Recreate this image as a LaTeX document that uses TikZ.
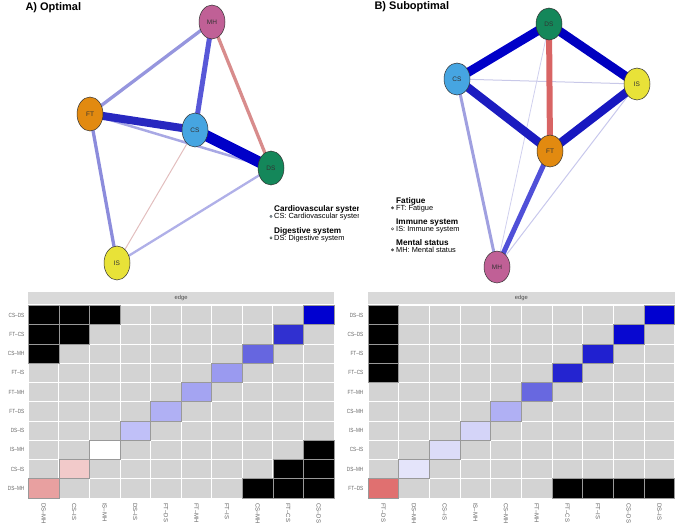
\documentclass[tikz,border=0pt]{standalone}
\usepackage{fontspec}
\setmainfont{Liberation Sans}
\usetikzlibrary{shapes.geometric}
\pgfdeclarelayer{background}
\pgfsetlayers{background,main}
% node colours
\definecolor{cMH}{RGB}{192,96,150}
\definecolor{cFT}{RGB}{226,138,16}
\definecolor{cCS}{RGB}{70,165,225}
\definecolor{cDS}{RGB}{20,135,90}
\definecolor{cIS}{RGB}{232,226,56}
% heatmap colours
\definecolor{panelgray}{RGB}{211,211,211}
\definecolor{stripgray}{RGB}{217,217,217}
\definecolor{labgray}{RGB}{100,100,100}
\definecolor{La}{RGB}{0,0,208}
\definecolor{Lb}{RGB}{48,48,208}
\definecolor{Lc}{RGB}{102,102,224}
\definecolor{Ld}{RGB}{154,154,240}
\definecolor{Le}{RGB}{164,164,242}
\definecolor{Lf}{RGB}{176,176,244}
\definecolor{Lg}{RGB}{192,192,248}
\definecolor{Lh}{RGB}{255,255,255}
\definecolor{Li}{RGB}{242,202,202}
\definecolor{Lj}{RGB}{232,160,160}
\definecolor{Ra}{RGB}{0,0,208}
\definecolor{Rb}{RGB}{8,8,208}
\definecolor{Rc}{RGB}{32,32,208}
\definecolor{Rd}{RGB}{36,36,208}
\definecolor{Re}{RGB}{104,104,224}
\definecolor{Rf}{RGB}{176,176,244}
\definecolor{Rg}{RGB}{212,212,248}
\definecolor{Rh}{RGB}{220,220,248}
\definecolor{Ri}{RGB}{228,228,250}
\definecolor{Rj}{RGB}{224,112,112}
\begin{document}
\begin{tikzpicture}[x=1pt,y=-1pt,
  netnode/.style={ellipse, draw=black!80, line width=0.5pt, inner sep=0pt,
     minimum width=26pt, minimum height=34pt, text=black!80,
     font=\fontsize{6.5}{7}\selectfont},
  rnode/.style={netnode, minimum height=32pt},
  title/.style={anchor=base west, font=\fontsize{11}{12}\bfseries},
  leghead/.style={anchor=base west, inner sep=0pt, font=\fontsize{8.2}{9}\bfseries},
  legitem/.style={anchor=base west, inner sep=0pt, font=\fontsize{7.4}{8}\selectfont},
  legdot/.style={draw=black!70, line width=0.4pt},
  ylab/.style={anchor=east, inner sep=0pt, text=labgray, font=\fontsize{6}{7}\selectfont},
  xlab/.style={anchor=west, rotate=-90, inner sep=0pt, text=labgray, font=\fontsize{6}{7}\selectfont},
  striplab/.style={inner sep=0pt, text=black!70, font=\fontsize{5.8}{6}\selectfont},
  cell/.style={draw=black!40, line width=0.7pt}
]
\useasboundingbox (0,0) rectangle (676,528);

% ---------------- Panel A network ----------------
\node[title] (tA) at (22,10) {A) Optimal};
\node[netnode, fill=cMH] (aMH) at (212,22) {MH};
\node[netnode, fill=cFT] (aFT) at (90,114) {FT};
\node[netnode, fill=cCS] (aCS) at (195,130) {CS};
\node[netnode, fill=cDS] (aDS) at (271,168) {DS};
\node[netnode, fill=cIS] (aIS) at (117,263) {IS};
\begin{pgfonlayer}{background}
\draw[line width=1pt, color={rgb,255:red,226;green,190;blue,190}] (aCS.center) -- (aIS.center);
\draw[line width=2.3pt, color={rgb,255:red,176;green,176;blue,232}] (aDS.center) -- (aIS.center);
\draw[line width=2.5pt, color={rgb,255:red,168;green,168;blue,228}] (aFT.center) -- (aDS.center);
\draw[line width=3.3pt, color={rgb,255:red,150;green,150;blue,222}] (aFT.center) -- (aMH.center);
\draw[line width=3.3pt, color={rgb,255:red,140;green,140;blue,220}] (aFT.center) -- (aIS.center);
\draw[line width=3.3pt, color={rgb,255:red,216;green,140;blue,140}] (aMH.center) -- (aDS.center);
\draw[line width=5pt, color={rgb,255:red,88;green,88;blue,216}] (aCS.center) -- (aMH.center);
\draw[line width=8pt, color={rgb,255:red,40;green,40;blue,192}] (aFT.center) -- (aCS.center);
\draw[line width=11pt, color={rgb,255:red,0;green,0;blue,200}] (aCS.center) -- (aDS.center);
\end{pgfonlayer}

% ---------------- Panel B network ----------------
\node[title] (tB) at (371,9.5) {B) Suboptimal};
\node[rnode, fill=cDS] (bDS) at (549,24) {DS};
\node[rnode, fill=cCS] (bCS) at (457,79) {CS};
\node[rnode, fill=cIS] (bIS) at (637,84) {IS};
\node[rnode, fill=cFT] (bFT) at (550,151) {FT};
\node[rnode, fill=cMH] (bMH) at (497,267) {MH};
\begin{pgfonlayer}{background}
\draw[line width=0.8pt, color={rgb,255:red,208;green,208;blue,238}] (bDS.center) -- (bMH.center);
\draw[line width=1pt, color={rgb,255:red,200;green,200;blue,236}] (bIS.center) -- (bMH.center);
\draw[line width=1pt, color={rgb,255:red,200;green,200;blue,232}] (bCS.center) -- (bIS.center);
\draw[line width=3pt, color={rgb,255:red,160;green,160;blue,224}] (bCS.center) -- (bMH.center);
\draw[line width=5pt, color={rgb,255:red,80;green,80;blue,216}] (bFT.center) -- (bMH.center);
\draw[line width=6pt, color={rgb,255:red,216;green,100;blue,100}] (bDS.center) -- (bFT.center);
\draw[line width=8.5pt, color={rgb,255:red,28;green,28;blue,192}] (bFT.center) -- (bCS.center);
\draw[line width=8.5pt, color={rgb,255:red,24;green,24;blue,192}] (bFT.center) -- (bIS.center);
\draw[line width=9pt, color={rgb,255:red,0;green,0;blue,200}] (bCS.center) -- (bDS.center);
\draw[line width=9pt, color={rgb,255:red,0;green,0;blue,192}] (bDS.center) -- (bIS.center);
\end{pgfonlayer}

% ---------------- Legends ----------------
\begin{scope}
\clip (262,195) rectangle (358,245);
\node[leghead] (lh1) at (274,211) {Cardiovascular system};
\node[legitem] (li1) at (274,218.5) {CS: Cardiovascular system};
\node[leghead] (lh2) at (274,233) {Digestive system};
\node[legitem] (li2) at (274,240) {DS: Digestive system};
\end{scope}
\draw[legdot, fill=cCS!40] (271,216.3) circle (1.2);
\draw[legdot, fill=cDS!40] (271,237.8) circle (1.2);

\node[leghead] (rh1) at (396,203) {Fatigue};
\node[legitem] (ri1) at (396,210) {FT: Fatigue};
\node[leghead] (rh2) at (396,224.5) {Immune system};
\node[legitem] (ri2) at (396,231) {IS: Immune system};
\node[leghead] (rh3) at (396,245) {Mental status};
\node[legitem] (ri3) at (396,252) {MH: Mental status};
\draw[legdot, fill=black!70] (392.5,207.8) circle (1.2);
\draw[legdot, fill=white] (392.5,228.8) circle (1.2);
\draw[legdot, fill=black!60] (392.5,249.8) circle (1.2);

% ---------------- Left heatmap ----------------
\def\lx{28.3}\def\ly{305.5}\def\lw{30.57}\def\rh{19.25}
\fill[stripgray] (\lx,291.5) rectangle (334,303.8);
\node[striplab] (lstrip) at (181.15,297.6) {edge};
\fill[panelgray] (\lx,\ly) rectangle (334,498);
\foreach \i in {0,...,10}{
  \draw[white, line width=1pt] ({\lx+\i*\lw},\ly) -- ({\lx+\i*\lw},498);
  \draw[white, line width=1pt] (\lx,{\ly+\i*\rh}) -- (334,{\ly+\i*\rh});
}
\foreach \c/\r/\col in {1/1/black,2/1/black,3/1/black,10/1/La,
   1/2/black,2/2/black,9/2/Lb, 1/3/black,8/3/Lc, 7/4/Ld, 6/5/Le, 5/6/Lf, 4/7/Lg,
   3/8/Lh,10/8/black, 2/9/Li,9/9/black,10/9/black,
   1/10/Lj,8/10/black,9/10/black,10/10/black}{
  \filldraw[cell, fill=\col] ({\lx+(\c-1)*\lw},{\ly+(\r-1)*\rh}) rectangle ({\lx+\c*\lw},{\ly+\r*\rh});
}
\foreach \t [count=\r] in {CS–DS,FT–CS,CS–MH,FT–IS,FT–MH,FT–DS,DS–IS,IS–MH,CS–IS,DS–MH}{
  \node[ylab] (ly\r) at (24.5,{\ly+(\r-0.5)*\rh}) {\scalebox{0.78}[1]{\t}};
}
\foreach \t [count=\c] in {DS–MH,CS–IS,IS–MH,DS–IS,FT–DS,FT–MH,FT–IS,CS–MH,FT–CS,CS–DS}{
  \node[xlab] (lx\c) at ({\lx+(\c-0.5)*\lw},503) {\t};
}

% ---------------- Right heatmap ----------------
\def\rx{368}\def\rw{30.67}
\fill[stripgray] (\rx,291.5) rectangle (674.7,303.8);
\node[striplab] (rstrip) at (521.35,297.6) {edge};
\fill[panelgray] (\rx,\ly) rectangle (674.7,498);
\foreach \i in {0,...,10}{
  \draw[white, line width=1pt] ({\rx+\i*\rw},\ly) -- ({\rx+\i*\rw},498);
  \draw[white, line width=1pt] (\rx,{\ly+\i*\rh}) -- (674.7,{\ly+\i*\rh});
}
\foreach \c/\r/\col in {1/1/black,10/1/Ra, 1/2/black,9/2/Rb, 1/3/black,8/3/Rc,
   1/4/black,7/4/Rd, 6/5/Re, 5/6/Rf, 4/7/Rg, 3/8/Rh, 2/9/Ri,
   1/10/Rj,7/10/black,8/10/black,9/10/black,10/10/black}{
  \filldraw[cell, fill=\col] ({\rx+(\c-1)*\rw},{\ly+(\r-1)*\rh}) rectangle ({\rx+\c*\rw},{\ly+\r*\rh});
}
\foreach \t [count=\r] in {DS–IS,CS–DS,FT–IS,FT–CS,FT–MH,CS–MH,IS–MH,CS–IS,DS–MH,FT–DS}{
  \node[ylab] (ry\r) at (363.5,{\ly+(\r-0.5)*\rh}) {\scalebox{0.78}[1]{\t}};
}
\foreach \t [count=\c] in {FT–DS,DS–MH,CS–IS,IS–MH,CS–MH,FT–MH,FT–CS,FT–IS,CS–DS,DS–IS}{
  \node[xlab] (rx\c) at ({\rx+(\c-0.5)*\rw},503) {\t};
}
\end{tikzpicture}
\end{document}
